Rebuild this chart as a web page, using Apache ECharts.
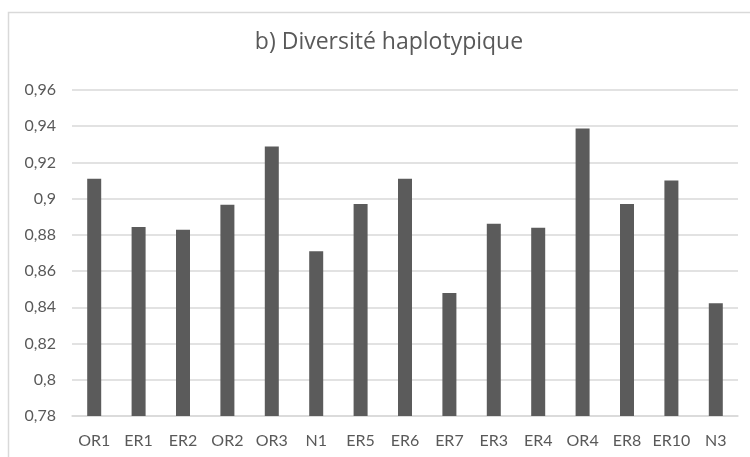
<!DOCTYPE html>
<html>
<head>
<meta charset="utf-8">
<script src="https://cdn.jsdelivr.net/npm/echarts@6/dist/echarts.min.js"></script>
<style>
  html, body { margin: 0; padding: 0; background: #ffffff; }
  #chart { width: 750px; height: 457px; }
</style>
</head>
<body>
<div id="chart"></div>
<script>
const categories = ["OR1", "ER1", "ER2", "OR2", "OR3", "N1", "ER5", "ER6", "ER7", "ER3", "ER4", "OR4", "ER8", "ER10", "N3"];
const values = [0.911, 0.8844, 0.8829, 0.8966, 0.9288, 0.871, 0.897, 0.911, 0.8479, 0.8861, 0.8839, 0.9388, 0.897, 0.910, 0.8422];
const titleText = "b) Diversité haplotypique";
const yMin = 0.78, yMax = 0.96, yStep = 0.02;

const chart = echarts.init(document.getElementById('chart'), null, { renderer: 'canvas' });
chart.setOption({
  backgroundColor: '#ffffff',
  animation: false,
  graphic: [{
    type: 'rect',
    shape: { x: 8.5, y: 12.5, width: 800, height: 500 },
    style: { fill: 'none', stroke: '#d9d9d9', lineWidth: 1.5 },
    silent: true
  }],
  title: {
    text: titleText,
    left: 384,
    textAlign: 'center',
    top: 26,
    textStyle: { fontFamily: 'Open Sans', fontWeight: 'normal', fontSize: 23, color: '#595959' }
  },
  grid: { left: 72, right: 12, top: 90, bottom: 41, containLabel: false },
  xAxis: {
    type: 'category',
    data: categories,
    axisLine: { show: true, lineStyle: { color: '#d9d9d9', width: 1.5 } },
    axisTick: { show: false },
    axisLabel: { interval: 0, color: '#595959', fontFamily: 'Lato', fontSize: 16, margin: 17 }
  },
  yAxis: {
    type: 'value',
    min: yMin,
    max: yMax,
    interval: yStep,
    axisLine: { show: false },
    axisTick: { show: false },
    splitLine: { lineStyle: { color: '#d9d9d9', width: 1.5 } },
    axisLabel: {
      color: '#595959', fontFamily: 'Lato', fontSize: 16, margin: 16,
      formatter: v => String(Math.round(v * 100) / 100).replace('.', ',')
    }
  },
  series: [{
    type: 'bar',
    data: values,
    barWidth: 14,
    itemStyle: { color: '#5b5b5b' }
  }]
});
</script>
</body>
</html>
